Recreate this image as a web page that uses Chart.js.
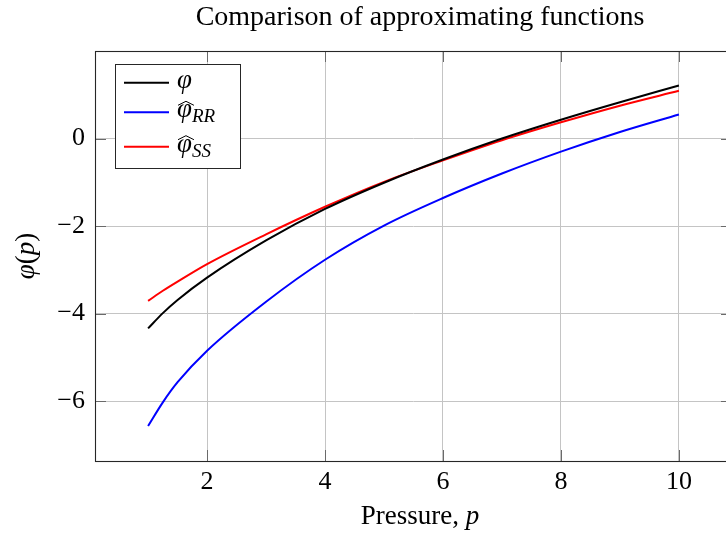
<!DOCTYPE html>
<html>
<head>
<meta charset="utf-8">
<script src="https://cdn.jsdelivr.net/npm/chart.js@4/dist/chart.umd.min.js"></script>
<style>
  html, body { margin: 0; padding: 0; background: #fff; overflow: hidden; }
  #wrap { width: 740px; height: 535px; }
</style>
</head>
<body>
<div id="wrap"><canvas id="chart" width="740" height="535"></canvas></div>
<script>
'use strict';

// values
const pressure = [1, 1.25, 1.5, 2, 3, 4, 5, 6, 7, 8, 9, 10];
const phiExact = [-4.34, -3.99, -3.69, -3.18, -2.33, -1.61, -1.01, -0.48, 0.00, 0.43, 0.83, 1.21];
const phiRR = [-6.57, -6.03, -5.57, -4.85, -3.73, -2.77, -1.99, -1.36, -0.80, -0.30, 0.15, 0.55];
const phiSS = [-3.71, -3.48, -3.27, -2.87, -2.19, -1.56, -0.99, -0.50, -0.04, 0.37, 0.75, 1.09];
const xTicks = [2, 4, 6, 8, 10];
const yTicks = [-6, -4, -2, 0];

const SERIF = '"Liberation Serif", "Times New Roman", serif';
const GRID = '#c4c4c4';
const TEXT_SIZE = 27;

const legendItems = [
  { color: '#000000', base: 'φ', sub: '', hat: false },
  { color: '#0000ff', base: 'φ', sub: 'RR', hat: true },
  { color: '#ff0000', base: 'φ', sub: 'SS', hat: true }
];

function toPoints(values) {
  return pressure.map((p, i) => ({ x: p, y: values[i] }));
}

function fmtTick(v) {
  return v < 0 ? '\u2212' + Math.abs(v) : String(v);
}

function font(size, italic) {
  return (italic ? 'italic ' : '') + size + 'px ' + SERIF;
}

// draw a row of differently styled text pieces, returns start x of each piece
function drawRuns(ctx, runs, x, y, align) {
  let total = 0;
  runs.forEach(r => {
    ctx.font = r.font;
    r.w = ctx.measureText(r.text).width;
    total += r.w;
  });
  let cx = align === 'center' ? x - total / 2 : x;
  ctx.textAlign = 'left';
  ctx.textBaseline = 'alphabetic';
  runs.forEach(r => {
    ctx.font = r.font;
    r.x = cx;
    ctx.fillText(r.text, cx, y + (r.dy || 0));
    cx += r.w;
  });
  return runs;
}

const framePlugin = {
  id: 'frame',
  afterDatasetsDraw(chart) {
    const { ctx, chartArea: a, scales } = chart;
    ctx.save();

    // tick marks, pointing inward from every side
    ctx.strokeStyle = '#6a6a6a';
    ctx.lineWidth = 1;
    ctx.beginPath();
    xTicks.forEach(v => {
      const px = Math.round(scales.x.getPixelForValue(v)) + 0.5;
      ctx.moveTo(px, a.bottom); ctx.lineTo(px, a.bottom - 11);
      ctx.moveTo(px, a.top); ctx.lineTo(px, a.top + 11);
    });
    yTicks.forEach(v => {
      const py = Math.round(scales.y.getPixelForValue(v)) + 0.5;
      ctx.moveTo(a.left, py); ctx.lineTo(a.left + 11, py);
      ctx.moveTo(a.right, py); ctx.lineTo(a.right - 11, py);
    });
    ctx.stroke();

    // axis box
    ctx.strokeStyle = '#262626';
    ctx.lineWidth = 1.1;
    ctx.strokeRect(a.left + 0.5, a.top + 0.5, a.right - a.left, a.bottom - a.top);

    // legend
    const box = { x: 115.5, y: 64.5, w: 125, h: 104 };
    ctx.fillStyle = '#ffffff';
    ctx.fillRect(box.x, box.y, box.w, box.h);
    ctx.strokeStyle = '#262626';
    ctx.lineWidth = 1;
    ctx.strokeRect(box.x, box.y, box.w, box.h);
    const rows = [82.7, 112.3, 146.7];
    legendItems.forEach((item, i) => {
      const y = rows[i];
      ctx.strokeStyle = item.color;
      ctx.lineWidth = 2;
      ctx.beginPath();
      ctx.moveTo(124, y);
      ctx.lineTo(169, y);
      ctx.stroke();
      ctx.fillStyle = '#000';
      const runs = [{ text: item.base, font: font(TEXT_SIZE, true) }];
      if (item.sub) runs.push({ text: item.sub, font: font(19, true), dy: 5 });
      const drawn = drawRuns(ctx, runs, 177, y + 5, 'left');
      if (item.hat) {
        // wide hat over the phi
        const hx = drawn[0].x + 1, hw = drawn[0].w + 1, top = y - 11;
        ctx.strokeStyle = '#000';
        ctx.lineWidth = 1;
        ctx.beginPath();
        ctx.moveTo(hx, top + 4);
        ctx.lineTo(hx + hw / 2, top);
        ctx.lineTo(hx + hw, top + 4);
        ctx.stroke();
      }
    });

    ctx.fillStyle = '#000';
    // title
    drawRuns(ctx, [{ text: 'Comparison of approximating functions', font: font(28) }], 420, 25, 'center');
    // x axis label
    drawRuns(ctx, [
      { text: 'Pressure, ', font: font(TEXT_SIZE) },
      { text: 'p', font: font(TEXT_SIZE, true) }
    ], 420, 524, 'center');
    // y axis label, rotated
    ctx.translate(34, (a.top + a.bottom) / 2);
    ctx.rotate(-Math.PI / 2);
    drawRuns(ctx, [
      { text: 'φ', font: font(TEXT_SIZE, true) },
      { text: '(', font: font(TEXT_SIZE) },
      { text: 'p', font: font(TEXT_SIZE, true) },
      { text: ')', font: font(TEXT_SIZE) }
    ], 0, 0, 'center');

    ctx.restore();
  }
};

const lineStyle = {
  borderWidth: 2,
  pointRadius: 0,
  fill: false,
  cubicInterpolationMode: 'monotone'
};

new Chart(document.getElementById('chart'), {
  type: 'line',
  data: {
    datasets: [
      { label: 'φ', data: toPoints(phiExact), borderColor: '#000000', ...lineStyle },
      { label: 'φ\u0302 RR', data: toPoints(phiRR), borderColor: '#0000ff', ...lineStyle },
      { label: 'φ\u0302 SS', data: toPoints(phiSS), borderColor: '#ff0000', ...lineStyle }
    ]
  },
  options: {
    responsive: false,
    animation: false,
    devicePixelRatio: 1,
    layout: { padding: { top: 51, right: 8, bottom: 0, left: 0 } },
    plugins: {
      legend: { display: false },
      title: { display: false },
      tooltip: { enabled: false }
    },
    scales: {
      x: {
        type: 'linear',
        min: 0.1,
        max: 10.9,
        afterBuildTicks: s => { s.ticks = xTicks.map(v => ({ value: v })); },
        afterFit: s => { s.height = 74; },
        grid: { color: GRID, drawTicks: false },
        border: { display: false },
        ticks: { color: '#000', font: { family: SERIF, size: 26 }, padding: 6, maxRotation: 0, callback: fmtTick }
      },
      y: {
        type: 'linear',
        min: -7.37,
        max: 2.0,
        afterBuildTicks: s => { s.ticks = yTicks.map(v => ({ value: v })); },
        afterFit: s => { s.width = 95; },
        grid: { color: GRID, drawTicks: false },
        border: { display: false },
        ticks: { color: '#000', font: { family: SERIF, size: 26 }, padding: 10, callback: fmtTick }
      }
    }
  },
  plugins: [framePlugin]
});
</script>
</body>
</html>
